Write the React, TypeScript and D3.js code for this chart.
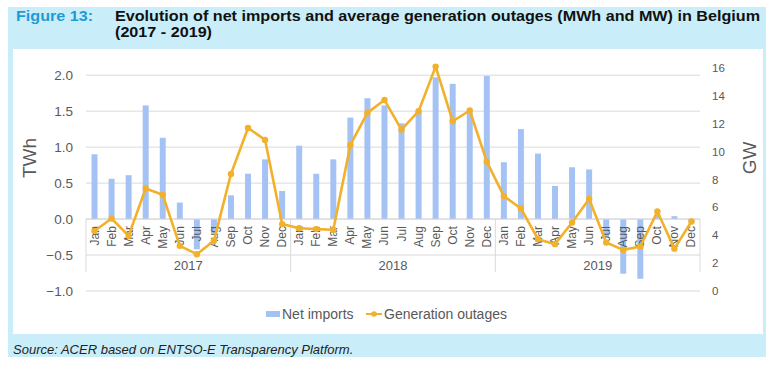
import React from 'react';
import * as d3 from 'd3';

// chart values
const months = ['Jan', 'Feb', 'Mar', 'Apr', 'May', 'Jun', 'Jul', 'Aug', 'Sep', 'Oct', 'Nov', 'Dec'];
const years = ['2017', '2018', '2019'];

// net imports, TWh
const netImports2017 = [0.90, 0.56, 0.61, 1.58, 1.13, 0.23, -0.42, -0.20, 0.33, 0.63, 0.83, 0.39];
const netImports2018 = [1.02, 0.63, 0.83, 1.41, 1.68, 1.58, 1.33, 1.50, 1.97, 1.88, 1.50, 1.99];
const netImports2019 = [0.79, 1.25, 0.91, 0.46, 0.72, 0.69, -0.25, -0.76, -0.83, 0.06, 0.04, -0.04];

// average generation outages, GW
const outages2017 = [4.3, 5.2, 3.96, 7.36, 6.9, 3.24, 2.64, 3.6, 8.4, 11.7, 10.84, 4.8];
const outages2018 = [4.5, 4.44, 4.39, 10.48, 12.78, 13.7, 11.58, 12.9, 16.1, 12.18, 12.95, 9.28];
const outages2019 = [6.81, 5.92, 3.72, 3.36, 4.92, 6.6, 3.48, 2.95, 3.19, 5.7, 3.04, 4.99];

const leftTicks = [-1.0, -0.5, 0.0, 0.5, 1.0, 1.5, 2.0];
const rightTicks = [0, 2, 4, 6, 8, 10, 12, 14, 16];

const netByYear = [netImports2017, netImports2018, netImports2019];
const outByYear = [outages2017, outages2018, outages2019];

const rows = years.flatMap((yr, yi) =>
  months.map((m, mi) => ({
    key: yr + '-' + m,
    year: yr,
    month: m,
    net: netByYear[yi][mi],
    out: outByYear[yi][mi],
  }))
);

const FONT = '"Liberation Sans", Arial, sans-serif';
const GRAY = '#595959';
const BAR = '#a4c2f4';
const LINE = '#f2b12b';

export default function App() {
  const plotLeft = 86;
  const plotRight = 700;

  const x = d3.scaleBand<string>()
    .domain(rows.map(d => d.key))
    .range([plotLeft, plotRight])
    .padding(0);

  const yL = d3.scaleLinear().domain([-1, 2.1]).range([291, 68]);
  const yR = d3.scaleLinear().domain([0, 16]).range([291, 68]);

  const bw = x.bandwidth();
  const barW = bw * 0.35;
  const cx = (k: string) => (x(k) as number) + bw / 2;

  const line = d3.line<typeof rows[number]>()
    .x(d => cx(d.key))
    .y(d => yR(d.out));

  const zeroY = yL(0);
  const groupBottom = 272;

  const yearBounds = years.map(yr => {
    const ks = rows.filter(r => r.year === yr).map(r => r.key);
    const a = x(ks[0]) as number;
    const b = (x(ks[ks.length - 1]) as number) + bw;
    return { yr, a, b };
  });

  return (
    <svg width={776} height={369} style={{ position: 'absolute', left: 0, top: 0, fontFamily: FONT }}>
      <rect x={0} y={0} width={776} height={369} fill="#fff" />
      {/* blue frame */}
      <rect x={8} y={7} width={758} height={350} fill="#c9eef9" />
      <rect x={13} y={49} width={750} height={285} fill="#fff" />

      <text x={16} y={21} fontSize={14} fontWeight="bold" fill="#1e9bd7" textLength={77} lengthAdjust="spacingAndGlyphs">Figure 13:</text>
      <text x={115} y={21} fontSize={14} fontWeight="bold" fill="#111" textLength={645} lengthAdjust="spacingAndGlyphs">
        Evolution of net imports and average generation outages (MWh and MW) in Belgium
      </text>
      <text x={115} y={37} fontSize={14} fontWeight="bold" fill="#111" textLength={97} lengthAdjust="spacingAndGlyphs">(2017 - 2019)</text>

      {/* gridlines */}
      {leftTicks.map(t => (
        <line key={'g' + t} x1={plotLeft} x2={plotRight} y1={yL(t)} y2={yL(t)} stroke="#d9d9d9" strokeWidth={1} />
      ))}

      {/* left axis labels */}
      {leftTicks.map(t => (
        <text key={'l' + t} x={73} y={yL(t)} fontSize={13.5} fill={GRAY} textAnchor="end" dominantBaseline="central">
          {d3.format('.1f')(t)}
        </text>
      ))}
      {/* right axis labels */}
      {rightTicks.map(t => (
        <text key={'r' + t} x={712} y={yR(t)} fontSize={11.5} fill={GRAY} textAnchor="start" dominantBaseline="central">
          {t}
        </text>
      ))}

      <text transform="translate(29,158) rotate(-90)" fontSize={19} fill={GRAY} textAnchor="middle" dominantBaseline="central">TWh</text>
      <text transform="translate(749,158) rotate(-90)" fontSize={19} fill={GRAY} textAnchor="middle" dominantBaseline="central">GW</text>

      {/* bars */}
      {rows.map(d => (
        <rect key={'b' + d.key}
              x={cx(d.key) - barW / 2}
              y={Math.min(yL(d.net), zeroY)}
              width={barW}
              height={Math.abs(yL(d.net) - zeroY)}
              fill={BAR} />
      ))}

      {/* category axis */}
      <line x1={plotLeft} x2={plotRight} y1={zeroY} y2={zeroY} stroke="#d9d9d9" />
      {[plotLeft, ...yearBounds.map(b => b.b)].map((px, i) => (
        <line key={'s' + i} x1={px} x2={px} y1={zeroY} y2={groupBottom} stroke="#d9d9d9" />
      ))}
      {rows.map(d => (
        <text key={'m' + d.key}
              transform={`translate(${cx(d.key)},${zeroY + 7}) rotate(-90)`}
              fontSize={12} fill={GRAY} textAnchor="end" dominantBaseline="central">
          {d.month}
        </text>
      ))}
      {yearBounds.map(b => (
        <text key={'y' + b.yr} x={(b.a + b.b) / 2} y={265} fontSize={13} fill={GRAY} textAnchor="middle" dominantBaseline="central">
          {b.yr}
        </text>
      ))}

      {/* outages line */}
      <path d={line(rows) || ''} fill="none" stroke={LINE} strokeWidth={2.6} strokeLinejoin="round" />
      {rows.map(d => (
        <circle key={'c' + d.key} cx={cx(d.key)} cy={yR(d.out)} r={3.2} fill={LINE} />
      ))}

      {/* legend */}
      <rect x={266} y={311} width={14} height={6} fill={BAR} />
      <text x={282} y={314} fontSize={14} fill={GRAY} dominantBaseline="central">Net imports</text>
      <line x1={366} x2={382} y1={314} y2={314} stroke={LINE} strokeWidth={2} />
      <circle cx={374} cy={314} r={2.8} fill={LINE} />
      <text x={384} y={314} fontSize={14} fill={GRAY} dominantBaseline="central">Generation outages</text>

      <text x={13} y={354} fontSize={13} fontStyle="italic" fill="#222">
        Source: ACER based on ENTSO-E Transparency Platform.
      </text>
    </svg>
  );
}
